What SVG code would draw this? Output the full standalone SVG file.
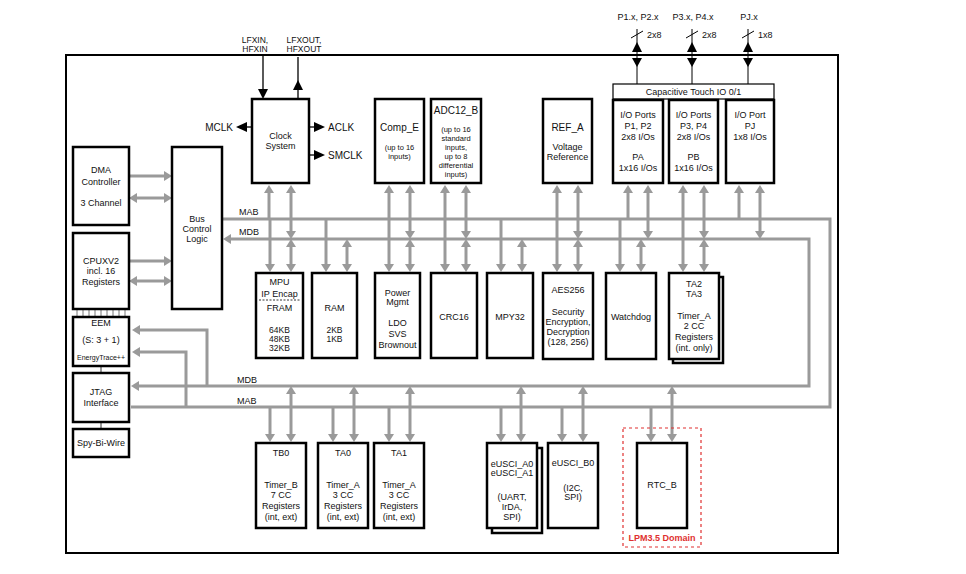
<svg xmlns="http://www.w3.org/2000/svg" width="966" height="574" viewBox="0 0 966 574">
<style>
text{font-family:"Liberation Sans",Arial,sans-serif;font-size:9px;fill:#111;text-anchor:middle}
.s{font-size:7.5px}
.t{font-size:10px}
.k{font-size:8.5px}
.l{text-anchor:start}
.r{text-anchor:end}
.box{fill:#fff;stroke:#000;stroke-width:2.5}
.bus{fill:none;stroke:#9a9a9a;stroke-width:3}
.a1{marker-end:url(#ga)}
.a2{marker-start:url(#ga);marker-end:url(#ga)}
.thin{fill:none;stroke:#000;stroke-width:1.3}
.bk{fill:#000}
</style>
<defs>
<marker id="ga" viewBox="0 0 8 10" refX="2" refY="5" markerWidth="8" markerHeight="10" markerUnits="userSpaceOnUse" orient="auto-start-reverse">
<path d="M0,0 L8,5 L0,10 z" fill="#9a9a9a"/>
</marker>
</defs>
<rect x="0" y="0" width="966" height="574" fill="#fff"/>
<rect id="outer" x="66" y="55" width="772" height="498" fill="none" stroke="#000" stroke-width="2"/>

<g id="connectors">
<path class="bus" d="M222,219 H830 V407 H131"/>
<path class="bus a2" d="M229,239 H809 V386 H137"/>
<path class="bus a1" d="M207,386 V330 H138"/>
<path class="bus a1" d="M186,407 V352 H138"/>
<path class="bus a1" d="M129,176 H166"/>
<path class="bus a2" d="M135,198 H166"/>
<path class="bus a1" d="M129,261 H166"/>
<path class="bus a2" d="M135,281 H166"/>
<path class="bus a1" d="M269,219 V191"/><path class="bus a2" d="M291,233 V191"/>
<path class="bus a1" d="M389,219 V191"/><path class="bus a2" d="M410,233 V191"/>
<path class="bus a1" d="M445,219 V191"/><path class="bus a2" d="M466,233 V191"/>
<path class="bus a1" d="M557,219 V191"/><path class="bus a2" d="M578,233 V191"/>
<path class="bus a1" d="M628,219 V191"/><path class="bus a2" d="M648,233 V191"/>
<path class="bus a1" d="M683,219 V191"/><path class="bus a2" d="M704,233 V191"/>
<path class="bus a1" d="M739,219 V191"/><path class="bus a2" d="M760,233 V191"/>
<path class="bus a1" d="M270,219 V266"/><path class="bus a2" d="M291,245 V266"/>
<path class="bus a1" d="M326,219 V266"/><path class="bus a2" d="M347,245 V266"/>
<path class="bus a1" d="M389,219 V266"/><path class="bus a2" d="M410,245 V266"/>
<path class="bus a1" d="M445,219 V266"/><path class="bus a2" d="M466,245 V266"/>
<path class="bus a1" d="M501,219 V266"/><path class="bus a2" d="M522,245 V266"/>
<path class="bus a1" d="M557,219 V266"/><path class="bus a2" d="M578,245 V266"/>
<path class="bus a1" d="M620,219 V266"/><path class="bus a2" d="M641,245 V266"/>
<path class="bus a1" d="M683,219 V266"/><path class="bus a2" d="M704,245 V266"/>
<path class="bus a1" d="M270,407 V436"/><path class="bus a2" d="M291,392 V436"/>
<path class="bus a1" d="M333,407 V436"/><path class="bus a2" d="M354,392 V436"/>
<path class="bus a1" d="M389,407 V436"/><path class="bus a2" d="M410,392 V436"/>
<path class="bus a1" d="M501,407 V436"/><path class="bus a2" d="M521,392 V436"/>
<path class="bus a1" d="M562,407 V436"/><path class="bus a2" d="M583,392 V436"/>
<path class="bus a1" d="M651,407 V436"/><path class="bus a2" d="M672,392 V436"/>
<path class="thin" d="M263,54 V90"/><polygon class="bk" points="258,89 268,89 263,99"/>
<path class="thin" d="M298,99 V57"/><polygon class="bk" points="293,90 303,90 298,80"/>
<path class="thin" d="M252,127 H246"/><polygon class="bk" points="247,122 247,132 236,127"/>
<path class="thin" d="M309,127 H315"/><polygon class="bk" points="314,122 314,132 325,127"/>
<path class="thin" d="M309,155 H315"/><polygon class="bk" points="314,150 314,160 325,155"/>
<g id="port-p12">
<path d="M637,29 V84" stroke="#000" stroke-width="1"/>
<polygon class="bk" points="637,42 632,52 642,52"/><polygon class="bk" points="632,58 642,58 637,67"/>
<path d="M631,38 L643,31" stroke="#000" stroke-width="1"/>
</g>
<g id="port-p34">
<path d="M692,29 V84" stroke="#000" stroke-width="1"/>
<polygon class="bk" points="692,42 687,52 697,52"/><polygon class="bk" points="687,58 697,58 692,67"/>
<path d="M686,38 L698,31" stroke="#000" stroke-width="1"/>
</g>
<g id="port-pj">
<path d="M748,29 V84" stroke="#000" stroke-width="1"/>
<polygon class="bk" points="748,42 743,52 753,52"/><polygon class="bk" points="743,58 753,58 748,67"/>
<path d="M742,38 L754,31" stroke="#000" stroke-width="1"/>
</g>
<path d="M101,366 V373 M101,422 V429" stroke="#333" stroke-width="1"/>
<path d="M77,309 V317 M83,309 V317 M89,309 V317 M95,309 V317 M101,309 V317 M107,309 V317 M113,309 V317 M119,309 V317 M125,309 V317" stroke="#555" stroke-width="0.8"/>
</g>

<g id="labels">
<text class="k" x="255" y="43">LFXIN,</text><text class="k" x="255" y="52">HFXIN</text>
<text class="k" x="304" y="43">LFXOUT,</text><text class="k" x="304" y="52">HFXOUT</text>
<text class="r t" x="233" y="131">MCLK</text>
<text class="l t" x="328" y="131">ACLK</text>
<text class="l t" x="328" y="159">SMCLK</text>
<text x="638" y="20">P1.x, P2.x</text>
<text x="693" y="20">P3.x, P4.x</text>
<text x="749" y="20">PJ.x</text>
<text class="l" x="647" y="38">2x8</text>
<text class="l" x="702" y="38">2x8</text>
<text class="l" x="758" y="38">1x8</text>
<text class="l" x="239" y="215">MAB</text>
<text class="l" x="239" y="235">MDB</text>
<text class="l" x="237" y="383">MDB</text>
<text class="l" x="237" y="404">MAB</text>
</g>

<g id="dma"><rect class="box" x="73" y="147" width="56" height="78"/>
<text x="101" y="173">DMA</text><text x="101" y="185">Controller</text><text x="101" y="206">3 Channel</text></g>
<g id="cpu"><rect class="box" x="73" y="233" width="56" height="76"/>
<text x="101" y="264">CPUXV2</text><text x="101" y="274">incl. 16</text><text x="101" y="285">Registers</text></g>
<g id="eem"><rect class="box" x="73" y="317" width="56" height="49"/>
<text x="101" y="326">EEM</text><text x="101" y="343">(S: 3 + 1)</text><text x="101" y="360" style="font-size:7px">EnergyTrace++</text></g>
<g id="jtag"><rect class="box" x="73" y="373" width="56" height="49"/>
<text x="101" y="395">JTAG</text><text x="101" y="406">Interface</text></g>
<g id="sbw"><rect class="box" x="73" y="429" width="56" height="28"/>
<text x="101" y="446">Spy-Bi-Wire</text></g>
<g id="buslogic"><rect class="box" x="172" y="147" width="50" height="162"/>
<text x="197" y="222">Bus</text><text x="197" y="232">Control</text><text x="197" y="242">Logic</text></g>

<g id="clock"><rect class="box" x="252" y="99" width="57" height="84"/>
<text x="280.5" y="139">Clock</text><text x="280.5" y="149">System</text></g>
<g id="comp"><rect class="box" x="375" y="99" width="49" height="84"/>
<text class="t" x="399.5" y="131">Comp_E</text><text class="s" x="399.5" y="150">(up to 16</text><text class="s" x="399.5" y="159">inputs)</text></g>
<g id="adc"><rect class="box" x="431" y="99" width="50" height="84"/>
<text class="t" x="456" y="114">ADC12_B</text>
<text class="s" x="456" y="132">(up to 16</text><text class="s" x="456" y="141">standard</text><text class="s" x="456" y="150">inputs,</text><text class="s" x="456" y="159">up to 8</text><text class="s" x="456" y="168">differential</text><text class="s" x="456" y="177">inputs)</text></g>
<g id="ref"><rect class="box" x="543" y="99" width="49" height="84"/>
<text class="t" x="567.5" y="131">REF_A</text><text x="567.5" y="150">Voltage</text><text x="567.5" y="160">Reference</text></g>
<g id="captouch"><rect x="613" y="84" width="161" height="15" fill="#fff" stroke="#000" stroke-width="1.2"/>
<text x="693.5" y="94.5">Capacitive Touch IO 0/1</text></g>
<g id="p12"><rect class="box" x="613" y="100" width="50" height="83"/>
<text x="638" y="118">I/O Ports</text><text x="638" y="129">P1, P2</text><text x="638" y="140">2x8 I/Os</text><text x="638" y="160">PA</text><text x="638" y="171">1x16 I/Os</text></g>
<g id="p34"><rect class="box" x="669" y="100" width="49" height="83"/>
<text x="693.5" y="118">I/O Ports</text><text x="693.5" y="129">P3, P4</text><text x="693.5" y="140">2x8 I/Os</text><text x="693.5" y="160">PB</text><text x="693.5" y="171">1x16 I/Os</text></g>
<g id="pj"><rect class="box" x="726" y="100" width="48" height="83"/>
<text x="750" y="118">I/O Port</text><text x="750" y="129">PJ</text><text x="750" y="140">1x8 I/Os</text></g>

<g id="mpu"><rect class="box" x="256" y="273" width="47" height="85"/>
<text x="279.5" y="285">MPU</text><text x="279.5" y="297">IP Encap</text>
<path d="M259,300 H300" stroke="#000" stroke-width="0.8" stroke-dasharray="2,1.5"/>
<text x="279.5" y="311">FRAM</text><text class="k" x="279.5" y="333">64KB</text><text class="k" x="279.5" y="342">48KB</text><text class="k" x="279.5" y="351">32KB</text></g>
<g id="ram"><rect class="box" x="312" y="273" width="45" height="85"/>
<text x="334.5" y="311">RAM</text><text class="k" x="334.5" y="333">2KB</text><text class="k" x="334.5" y="342">1KB</text></g>
<g id="power"><rect class="box" x="375" y="273" width="45" height="85"/>
<text x="397.5" y="296">Power</text><text x="397.5" y="305">Mgmt</text><text x="397.5" y="326">LDO</text><text x="397.5" y="337">SVS</text><text x="397.5" y="348">Brownout</text></g>
<g id="crc"><rect class="box" x="431" y="273" width="46" height="85"/>
<text x="454" y="320">CRC16</text></g>
<g id="mpy"><rect class="box" x="487" y="273" width="46" height="85"/>
<text x="510" y="320">MPY32</text></g>
<g id="aes"><rect class="box" x="543" y="273" width="50" height="86"/>
<text x="568" y="293">AES256</text><text x="568" y="315">Security</text><text x="568" y="325">Encryption,</text><text x="568" y="335">Decryption</text><text x="568" y="345">(128, 256)</text></g>
<g id="wdt"><rect class="box" x="606" y="273" width="50" height="86"/>
<text x="631" y="320">Watchdog</text></g>
<g id="ta23"><rect class="box" x="673" y="277" width="50" height="86"/><rect class="box" x="669" y="273" width="50" height="86"/>
<text x="694" y="287">TA2</text><text x="694" y="297">TA3</text><text x="694" y="319">Timer_A</text><text x="694" y="329">2 CC</text><text x="694" y="340">Registers</text><text x="694" y="351">(int. only)</text></g>

<g id="tb0"><rect class="box" x="256" y="443" width="50" height="85"/>
<text x="281" y="456">TB0</text><text x="281" y="488">Timer_B</text><text x="281" y="498">7 CC</text><text x="281" y="509">Registers</text><text x="281" y="520">(int, ext)</text></g>
<g id="ta0"><rect class="box" x="318" y="443" width="50" height="85"/>
<text x="343" y="456">TA0</text><text x="343" y="488">Timer_A</text><text x="343" y="498">3 CC</text><text x="343" y="509">Registers</text><text x="343" y="520">(int, ext)</text></g>
<g id="ta1"><rect class="box" x="374" y="443" width="50" height="85"/>
<text x="399" y="456">TA1</text><text x="399" y="488">Timer_A</text><text x="399" y="498">3 CC</text><text x="399" y="509">Registers</text><text x="399" y="520">(int, ext)</text></g>
<g id="eusci-a"><rect class="box" x="492" y="448" width="50" height="85"/><rect class="box" x="487" y="443" width="50" height="85"/>
<text x="512" y="467">eUSCI_A0</text><text x="512" y="476">eUSCI_A1</text><text x="512" y="500">(UART,</text><text x="512" y="510">IrDA,</text><text x="512" y="520">SPI)</text></g>
<g id="eusci-b"><rect class="box" x="548" y="443" width="50" height="85"/>
<text x="573" y="466">eUSCI_B0</text><text x="573" y="491">(I2C,</text><text x="573" y="500">SPI)</text></g>
<g id="lpm"><rect x="623" y="428" width="78" height="119" fill="none" stroke="#e03030" stroke-width="1.2" stroke-dasharray="3,3"/>
<text x="662" y="541" style="fill:#e03030;font-weight:bold">LPM3.5 Domain</text></g>
<g id="rtc"><rect class="box" x="637" y="443" width="50" height="85"/>
<text x="662" y="488">RTC_B</text></g>
</svg>
